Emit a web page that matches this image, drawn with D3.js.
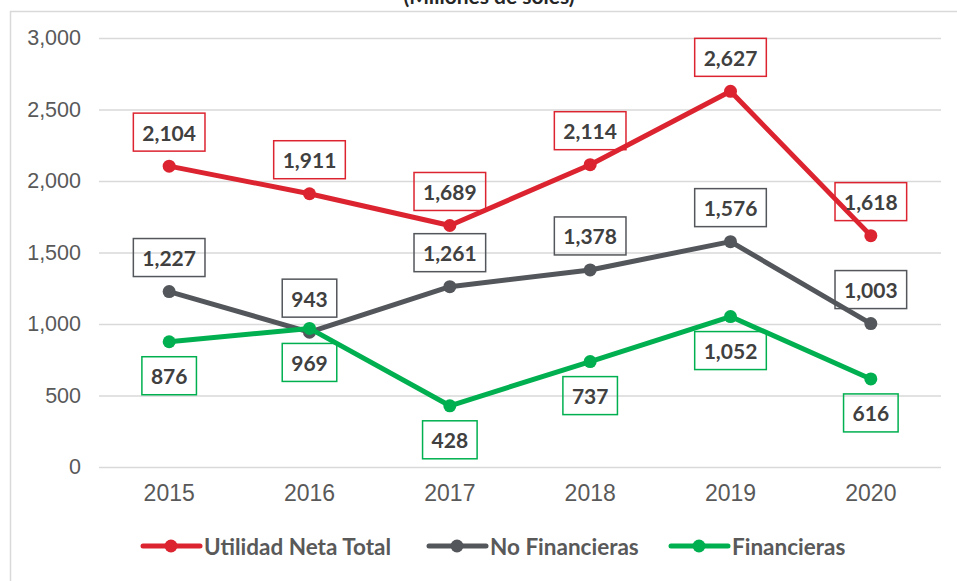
<!DOCTYPE html>
<html><head><meta charset="utf-8">
<script src="https://cdn.jsdelivr.net/npm/d3@7"></script>
<style>body{margin:0;background:#fff}svg{display:block}</style>
</head><body>
<svg id="c" width="957" height="581"></svg>
<script>
const years = ["2015","2016","2017","2018","2019","2020"];
const utilidadNetaTotal = [2104,1911,1689,2114,2627,1618];
const noFinancieras = [1227,943,1261,1378,1576,1003];
const financieras = [876,969,428,737,1052,616];
const yTicks = [0,500,1000,1500,2000,2500,3000];
const seriesNames = ["Utilidad Neta Total","No Financieras","Financieras"];
const seriesColors = ["#dc2430","#53565a","#00b050"];
const labelSide = [-1,-1,1];
const titleText = "(Millones de soles)";

const svg = d3.select("#c");
svg.append("rect").attr("x",10.5).attr("y",11.5).attr("width",1000).attr("height",700)
  .attr("fill","none").attr("stroke","#d9d9d9").attr("stroke-width",1.5);
svg.append("text").attr("x",489).attr("y",4).attr("text-anchor","middle")
  .attr("font-family","Lato").attr("font-weight","bold").attr("font-size",21)
  .attr("fill","#262626").text(titleText);

const x = d3.scaleBand().domain(years).range([99,941]);
const y = d3.scaleLinear().domain([0,3000]).range([467,38]);
const cx = d => x(d)+x.bandwidth()/2;

const yAxis = svg.append("g").attr("transform","translate(99,0)")
  .call(d3.axisLeft(y).tickValues(yTicks).tickSize(-842).tickPadding(18).tickFormat(d3.format(",")));
yAxis.select(".domain").remove();
yAxis.selectAll("line").attr("stroke","#d9d9d9").attr("stroke-width",1.5);
yAxis.selectAll("text").attr("font-family","Liberation Sans").attr("font-size",21.5).attr("fill","#595959");

const xAxis = svg.append("g").attr("transform","translate(0,467)")
  .call(d3.axisBottom(x).tickSize(0).tickPadding(18));
xAxis.select(".domain").remove();
xAxis.selectAll("text").attr("font-family","Liberation Sans").attr("font-size",23).attr("fill","#595959");

const allSeries = [utilidadNetaTotal,noFinancieras,financieras];
const line = d3.line().x((d,i)=>cx(years[i])).y(d=>y(d));
const fmt = d3.format(",");

allSeries.forEach((vals,si)=>{
  const col = seriesColors[si];
  svg.append("path").datum(vals).attr("d",line).attr("fill","none")
    .attr("stroke",col).attr("stroke-width",5).attr("stroke-linejoin","round");
  svg.append("g").selectAll("circle").data(vals).join("circle")
    .attr("cx",(d,i)=>cx(years[i])).attr("cy",d=>y(d)).attr("r",6.5).attr("fill",col);
});

allSeries.forEach((vals,si)=>{
  const col = seriesColors[si];
  const g = svg.append("g");
  vals.forEach((v,i)=>{
    const px = cx(years[i]), py = y(v) + labelSide[si]*34;
    const t = g.append("text").attr("x",px).attr("y",py).attr("text-anchor","middle")
      .attr("dominant-baseline","central").attr("font-family","Lato").attr("font-weight","bold")
      .attr("font-size",21).attr("fill","#404040").text(fmt(v));
    const w = t.node().getComputedTextLength();
    g.insert("rect","text").attr("x",px-w/2-9).attr("y",py-19).attr("width",w+18).attr("height",38)
      .attr("fill","none").attr("stroke",col).attr("stroke-width",1.5);
  });
});

const leg = svg.append("g");
const legX = [143,429,671];
seriesNames.forEach((n,i)=>{
  const lx = legX[i], ly = 546;
  leg.append("line").attr("x1",lx).attr("x2",lx+57).attr("y1",ly).attr("y2",ly)
    .attr("stroke",seriesColors[i]).attr("stroke-width",5).attr("stroke-linecap","round");
  leg.append("circle").attr("cx",lx+28).attr("cy",ly).attr("r",6.5).attr("fill",seriesColors[i]);
  leg.append("text").attr("x",lx+61).attr("y",ly).attr("dominant-baseline","central")
    .attr("font-family","Lato").attr("font-weight","bold").attr("font-size",22.5)
    .attr("fill","#595959").text(n);
});
</script>
</body></html>
